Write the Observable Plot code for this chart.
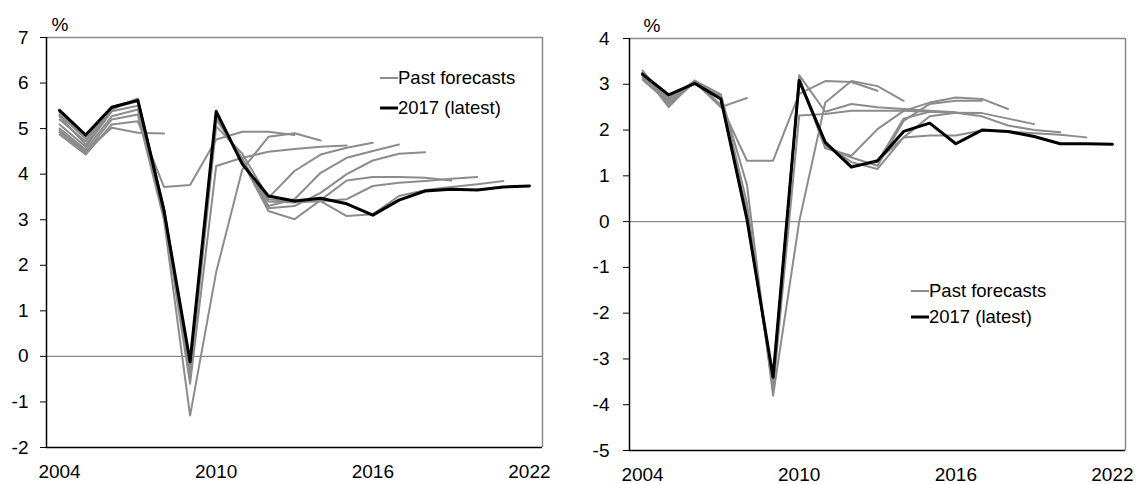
<!DOCTYPE html>
<html>
<head>
<meta charset="utf-8">
<script src="https://cdn.jsdelivr.net/npm/d3@7"></script>
<script src="https://cdn.jsdelivr.net/npm/@observablehq/plot@0.6"></script>
<style>
  html, body { margin: 0; padding: 0; background: #fff; }
  #wrap { position: relative; width: 1140px; height: 484px; display: flex; font-family: "Liberation Sans", Arial, sans-serif; }
  .legend { position: absolute; font-size: 18.5px; color: #000; line-height: 1; }
  .legend .item { position: absolute; white-space: nowrap; display: flex; align-items: center; }
  .legend svg { display: block; }
</style>
</head>
<body>
<div id="wrap"></div>
<script>
// Years on the horizontal axis
const years = [2004, 2005, 2006, 2007, 2008, 2009, 2010, 2011, 2012, 2013,
               2014, 2015, 2016, 2017, 2018, 2019, 2020, 2021, 2022];
const xTicks = [2004, 2010, 2016, 2022];

// Left panel: latest vintage (2017) and past forecast vintages, all starting in 2004
const leftLatest = [5.40, 4.86, 5.47, 5.62, 3.20, -0.12, 5.38, 4.22, 3.52, 3.41,
                    3.47, 3.35, 3.10, 3.43, 3.63, 3.67, 3.65, 3.72, 3.74];
const leftPast = [
  [4.95, 4.50, 5.02, 4.91, 4.89],
  [4.87, 4.43, 5.09, 5.16, 3.72, 3.76, 4.76, 4.93, 4.93, 4.86],
  [4.92, 4.47, 5.20, 5.31, 3.00, -1.30, 1.85, 4.10, 4.82, 4.90, 4.74],
  [5.00, 4.54, 5.27, 5.42, 3.10, -0.60, 4.18, 4.36, 4.49, 4.55, 4.60, 4.63],
  [5.09, 4.60, 5.38, 5.50, 3.15, -0.45, 5.05, 4.45, 3.48, 4.07, 4.43, 4.58, 4.69],
  [5.27, 4.65, 5.42, 5.66, 3.20, -0.35, 5.20, 4.35, 3.30, 3.45, 4.03, 4.36, 4.51, 4.65],
  [5.20, 4.72, 5.45, 5.60, 3.25, -0.30, 5.25, 4.30, 3.25, 3.30, 3.59, 4.00, 4.30, 4.45, 4.48],
  [5.30, 4.78, 5.48, 5.63, 3.25, -0.25, 5.30, 4.28, 3.19, 3.01, 3.43, 3.86, 3.94, 3.94, 3.92, 3.86],
  [5.35, 4.82, 5.45, 5.62, 3.22, -0.20, 5.35, 4.25, 3.40, 3.38, 3.41, 3.45, 3.74, 3.81, 3.85, 3.90, 3.94],
  [5.38, 4.84, 5.47, 5.63, 3.20, -0.15, 5.36, 4.24, 3.45, 3.40, 3.41, 3.08, 3.12, 3.52, 3.65, 3.72, 3.78, 3.85]
];
const leftYTicks = [-2, -1, 0, 1, 2, 3, 4, 5, 6, 7];

// Right panel
const rightLatest = [3.22, 2.77, 3.02, 2.68, 0.05, -3.40, 3.08, 1.73, 1.19, 1.33,
                     1.97, 2.15, 1.70, 2.00, 1.97, 1.86, 1.70, 1.70, 1.69];
const rightPast = [
  [3.10, 2.60, 3.05, 2.50, 2.70],
  [3.15, 2.65, 3.08, 2.55, 1.33, 1.33, 2.79, 3.07, 3.05, 2.86],
  [3.20, 2.55, 3.05, 2.75, 0.80, -3.80, 0.00, 2.60, 3.07, 2.96, 2.64],
  [3.25, 2.50, 3.08, 2.78, 0.40, -3.70, 2.32, 2.35, 2.42, 2.42, 2.42, 2.40],
  [3.30, 2.60, 3.05, 2.75, 0.20, -3.60, 3.20, 2.40, 2.57, 2.50, 2.46, 2.42, 2.39],
  [3.25, 2.62, 3.05, 2.72, 0.15, -3.55, 3.15, 1.65, 1.40, 1.22, 2.20, 2.57, 2.64, 2.64],
  [3.22, 2.70, 3.02, 2.70, 0.10, -3.50, 3.12, 1.60, 1.44, 2.02, 2.42, 2.60, 2.71, 2.68, 2.46],
  [3.20, 2.75, 3.02, 2.70, 0.08, -3.45, 3.10, 1.70, 1.30, 1.15, 1.84, 2.30, 2.38, 2.37, 2.25, 2.13],
  [3.22, 2.76, 3.03, 2.69, 0.06, -3.42, 3.09, 1.72, 1.22, 1.30, 2.25, 2.40, 2.38, 2.30, 2.10, 2.00, 1.95],
  [3.22, 2.77, 3.02, 2.68, 0.05, -3.40, 3.08, 1.73, 1.20, 1.32, 1.84, 1.88, 1.88, 1.99, 1.97, 1.93, 1.90, 1.84]
];
const rightYTicks = [-5, -4, -3, -2, -1, 0, 1, 2, 3, 4];

const legendLabels = ["Past forecasts", "2017 (latest)"];
const unitLabel = "%";

const GREY = "#8c8c8c";
const FONT = "'Liberation Sans', Arial, sans-serif";

function panel({latest, past, yTicks, margins, tickPadY, unitDx}) {
  const pastRows = [];
  past.forEach((vals, k) => vals.forEach((v, i) => pastRows.push({vintage: k, year: years[i], value: v})));
  const latestRows = latest.map((v, i) => ({year: years[i], value: v}));
  const yMin = yTicks[0], yMax = yTicks[yTicks.length - 1];
  const xLo = years[0] - 0.5, xHi = years[years.length - 1] + 0.5;
  return Plot.plot({
    width: 570,
    height: 484,
    ...margins,
    style: {fontFamily: FONT, fontSize: "19px", color: "#000", background: "#fff", overflow: "visible"},
    x: {domain: [xLo, xHi], ticks: xTicks, tickFormat: d => String(d), tickSize: 0, tickPadding: 17, label: null},
    y: {domain: [yMin, yMax], ticks: yTicks, tickFormat: d => String(d), tickSize: 6, tickPadding: tickPadY, label: null},
    marks: [
      Plot.ruleY([0], {stroke: "#8a8a8a", strokeWidth: 1.2}),
      Plot.ruleY([yMax], {stroke: "#8a8a8a", strokeWidth: 1.5}),
      Plot.ruleX([xHi], {stroke: "#8a8a8a", strokeWidth: 1.5}),
      Plot.lineY(pastRows, {x: "year", y: "value", z: "vintage", stroke: GREY, strokeWidth: 2}),
      Plot.lineY(latestRows, {x: "year", y: "value", stroke: "#000", strokeWidth: 3}),
      Plot.ruleY([yMin], {stroke: "#000", strokeWidth: 1.5}),
      Plot.ruleX([xLo], {stroke: "#000", strokeWidth: 1.5}),
      Plot.text([unitLabel], {frameAnchor: "top-left", dx: unitDx, dy: -7, lineAnchor: "bottom", fontSize: 19, fill: "#000"})
    ]
  });
}

const wrap = document.getElementById("wrap");
wrap.append(panel({
  latest: leftLatest, past: leftPast, yTicks: leftYTicks,
  margins: {marginLeft: 46, marginRight: 28, marginTop: 37, marginBottom: 37},
  tickPadY: 12, unitDx: 5
}));
wrap.append(panel({
  latest: rightLatest, past: rightPast, yTicks: rightYTicks,
  margins: {marginLeft: 59, marginRight: 15, marginTop: 38, marginBottom: 34},
  tickPadY: 14, unitDx: 14
}));

// Line-swatch legends inside each plot area
function legend(left, top, gap) {
  const div = document.createElement("div");
  div.className = "legend";
  div.style.left = left + "px";
  div.style.top = top + "px";
  legendLabels.forEach((label, i) => {
    const item = document.createElement("div");
    item.className = "item";
    item.style.top = (i * gap) + "px";
    const color = i === 0 ? GREY : "#000";
    const w = i === 0 ? 2 : 3;
    item.innerHTML = `<svg width="18" height="8"><line x1="0" x2="18" y1="4" y2="4" stroke="${color}" stroke-width="${w}"/></svg><span>${label}</span>`;
    div.append(item);
  });
  wrap.append(div);
}
legend(380, 69, 30);
legend(911, 282, 26);
</script>
</body>
</html>
